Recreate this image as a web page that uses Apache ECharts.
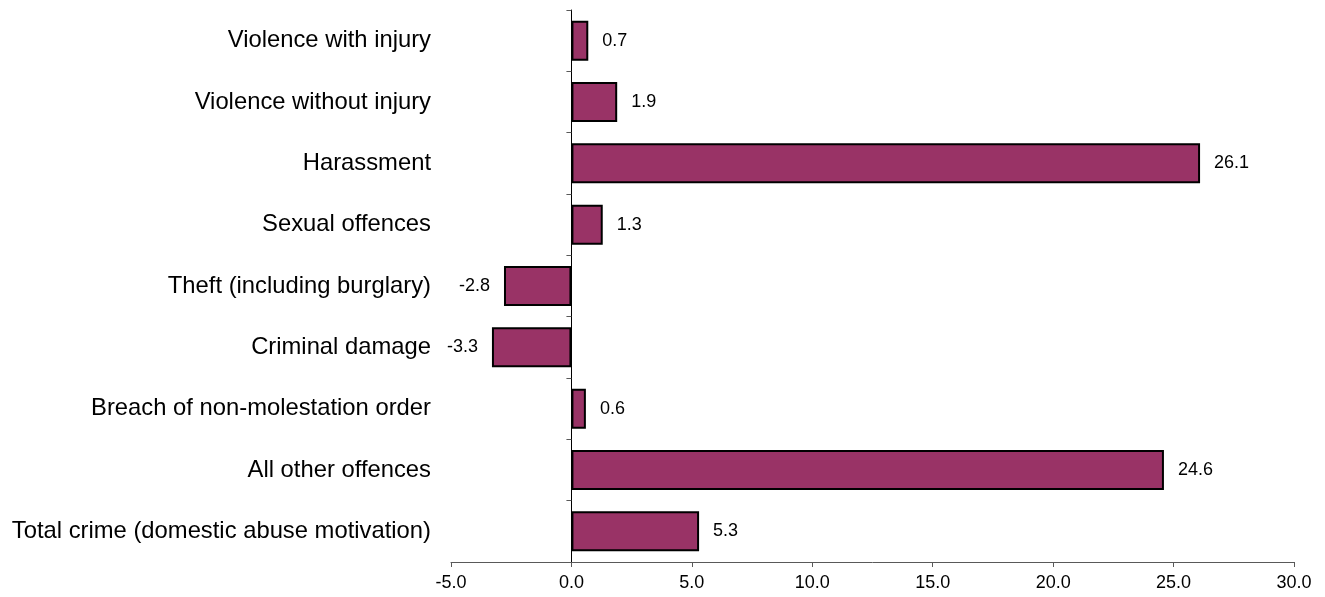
<!DOCTYPE html>
<html>
<head>
<meta charset="utf-8">
<script src="https://cdn.jsdelivr.net/npm/echarts@6/dist/echarts.min.js"></script>
<style>html,body{margin:0;padding:0;background:#fff;}#c{width:1325px;height:597px;}</style>
</head>
<body>
<div id="c"></div>
<script>
const categories = [
  "Violence with injury",
  "Violence without injury",
  "Harassment",
  "Sexual offences",
  "Theft (including burglary)",
  "Criminal damage",
  "Breach of non-molestation order",
  "All other offences",
  "Total crime (domestic abuse motivation)"
];
const values = [0.7, 1.9, 26.1, 1.3, -2.8, -3.3, 0.6, 24.6, 5.3];
const xTicks = { min: -5, max: 30, interval: 5 };

const font = '"Liberation Sans", Arial, sans-serif';
const chart = echarts.init(document.getElementById('c'));
chart.setOption({
  animation: false,
  grid: { left: 451, right: 31, top: 10, bottom: 35 },
  xAxis: {
    type: 'value', min: xTicks.min, max: xTicks.max, interval: xTicks.interval,
    splitLine: { show: false },
    axisLine: { show: true, onZero: false, lineStyle: { color: '#595959', width: 1 } },
    axisTick: { show: true, length: 5, lineStyle: { color: '#595959' } },
    axisLabel: { formatter: v => v.toFixed(1), fontFamily: font, fontSize: 18, color: '#000', margin: 12 }
  },
  yAxis: [
    {
      type: 'category', data: categories, inverse: true, position: 'left',
      axisLine: { show: false, onZero: false }, axisTick: { show: false },
      axisLabel: { fontFamily: font, fontSize: 23.8, color: '#000', margin: 20 }
    },
    {
      type: 'category', data: categories, inverse: true, position: 'left',
      axisLine: { show: true, onZero: true, lineStyle: { color: '#000', width: 1 } },
      axisTick: { show: true, length: 5, lineStyle: { color: '#595959' } },
      axisLabel: { show: false }
    }
  ],
  series: [{
    type: 'bar', yAxisIndex: 0, barWidth: 40,
    data: values.map(v => ({
      value: v,
      label: { position: v < 0 ? 'left' : 'right' }
    })),
    itemStyle: { color: '#993366', borderColor: '#000', borderWidth: 2 },
    label: {
      show: true, distance: 14, fontFamily: font, fontSize: 18, color: '#000',
      formatter: p => p.value.toFixed(1)
    }
  }]
});
</script>
</body>
</html>
